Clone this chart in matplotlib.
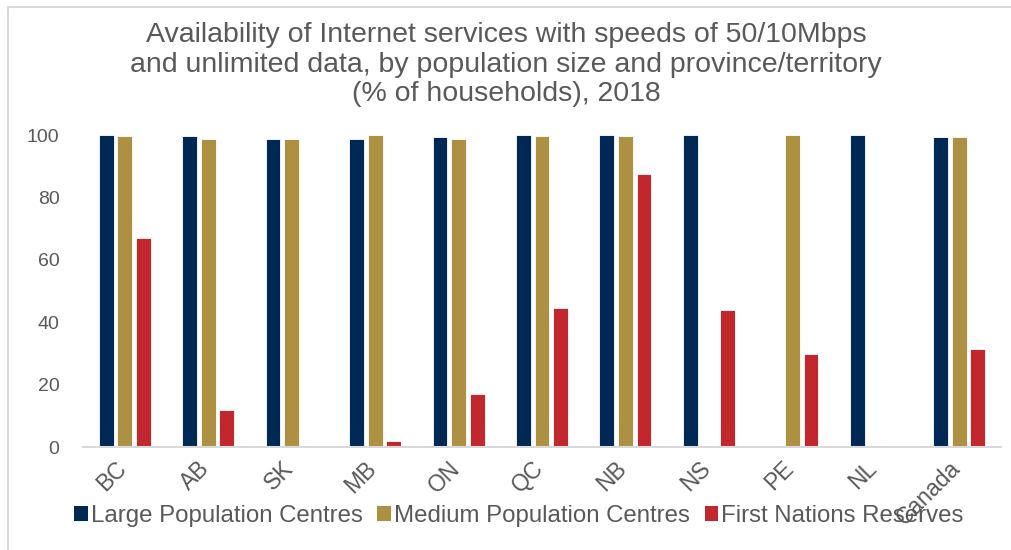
import numpy as np
import matplotlib
matplotlib.use("Agg")
import matplotlib.pyplot as plt
import matplotlib.transforms as mtransforms
from matplotlib.lines import Line2D
from matplotlib.patches import Patch

plt.rcParams['font.family'] = ['Liberation Sans', 'DejaVu Sans']

categories = ["BC", "AB", "SK", "MB", "ON", "QC", "NB", "NS", "PE", "NL", "Canada"]
large = [100.0, 99.7, 98.6, 98.8, 99.3, 99.9, 99.9, 100.0, np.nan, 99.9, 99.5]
medium = [99.8, 98.8, 98.8, 100.0, 98.6, 99.8, 99.7, np.nan, 100.0, np.nan, 99.3]
reserves = [66.9, 11.9, np.nan, 1.8, 17.0, 44.6, 87.4, 43.8, 29.7, np.nan, 31.3]
series_names = ["Large Population Centres", "Medium Population Centres", "First Nations Reserves"]
colors = ["#002855", "#AD9042", "#C1272D"]
yticks = [0, 20, 40, 60, 80, 100]
title = ("Availability of Internet services with speeds of 50/10Mbps\n"
         "and unlimited data, by population size and province/territory\n"
         "(% of households), 2018")

W, H = 1012, 550
fig = plt.figure(figsize=(W / 100, H / 100), dpi=100)
ax = fig.add_axes([83 / W, 1 - 447 / H, (1001 - 83) / W, (447 - 135) / H])

x = np.arange(len(categories))
pitch = 0.223
width = 0.178
for i, (vals, c) in enumerate(zip([large, medium, reserves], colors)):
    ax.bar(x + (i - 1) * pitch, vals, width, color=c, edgecolor="white",
           linewidth=0.6, clip_on=False, zorder=3)

ax.set_xlim(-0.5, len(categories) - 0.5)
ax.set_ylim(0, 100)
ax.set_yticks(yticks)
ax.set_yticklabels([str(v) for v in yticks])
ax.set_xticks(x)
ax.set_xticklabels(categories, rotation=45, ha="right", va="top")
ax.tick_params(axis="y", length=0, pad=17, labelsize=14, labelcolor="#595959")
ax.tick_params(axis="x", length=0, pad=7, labelsize=16.5, labelcolor="#595959")
offset = mtransforms.ScaledTranslation(6 / 100, 0, fig.dpi_scale_trans)
for lbl in ax.get_xticklabels():
    lbl.set_transform(lbl.get_transform() + offset)
for s in ["top", "right", "left"]:
    ax.spines[s].set_visible(False)
ax.spines["bottom"].set_color("#D9D9D9")
ax.spines["bottom"].set_linewidth(1.5)
ax.spines["bottom"].set_zorder(4)

fig.text(506 / W, 1 - 22 / H, title, ha="center", va="top", fontsize=20.5,
         color="#595959", linespacing=1.18)

handles = [Patch(facecolor=c, edgecolor="none") for c in colors]
leg = fig.legend(handles, series_names, loc="center", bbox_to_anchor=(519 / W, 1 - 516 / H),
                 ncol=3, frameon=False, fontsize=17.3, handlelength=0.55, handleheight=0.55,
                 handletextpad=0.15, columnspacing=0.6, borderaxespad=0, borderpad=0)
for t in leg.get_texts():
    t.set_color("#595959")

# outer frame lines
fig.add_artist(Line2D([8 / W, 8 / W], [1 - 7 / H, 0], transform=fig.transFigure,
                      color="#D9D9D9", lw=1.5))
fig.add_artist(Line2D([8 / W, 1], [1 - 7 / H, 1 - 7 / H], transform=fig.transFigure,
                      color="#D9D9D9", lw=1.5))

fig.savefig("out.png", dpi=100, facecolor="white")
